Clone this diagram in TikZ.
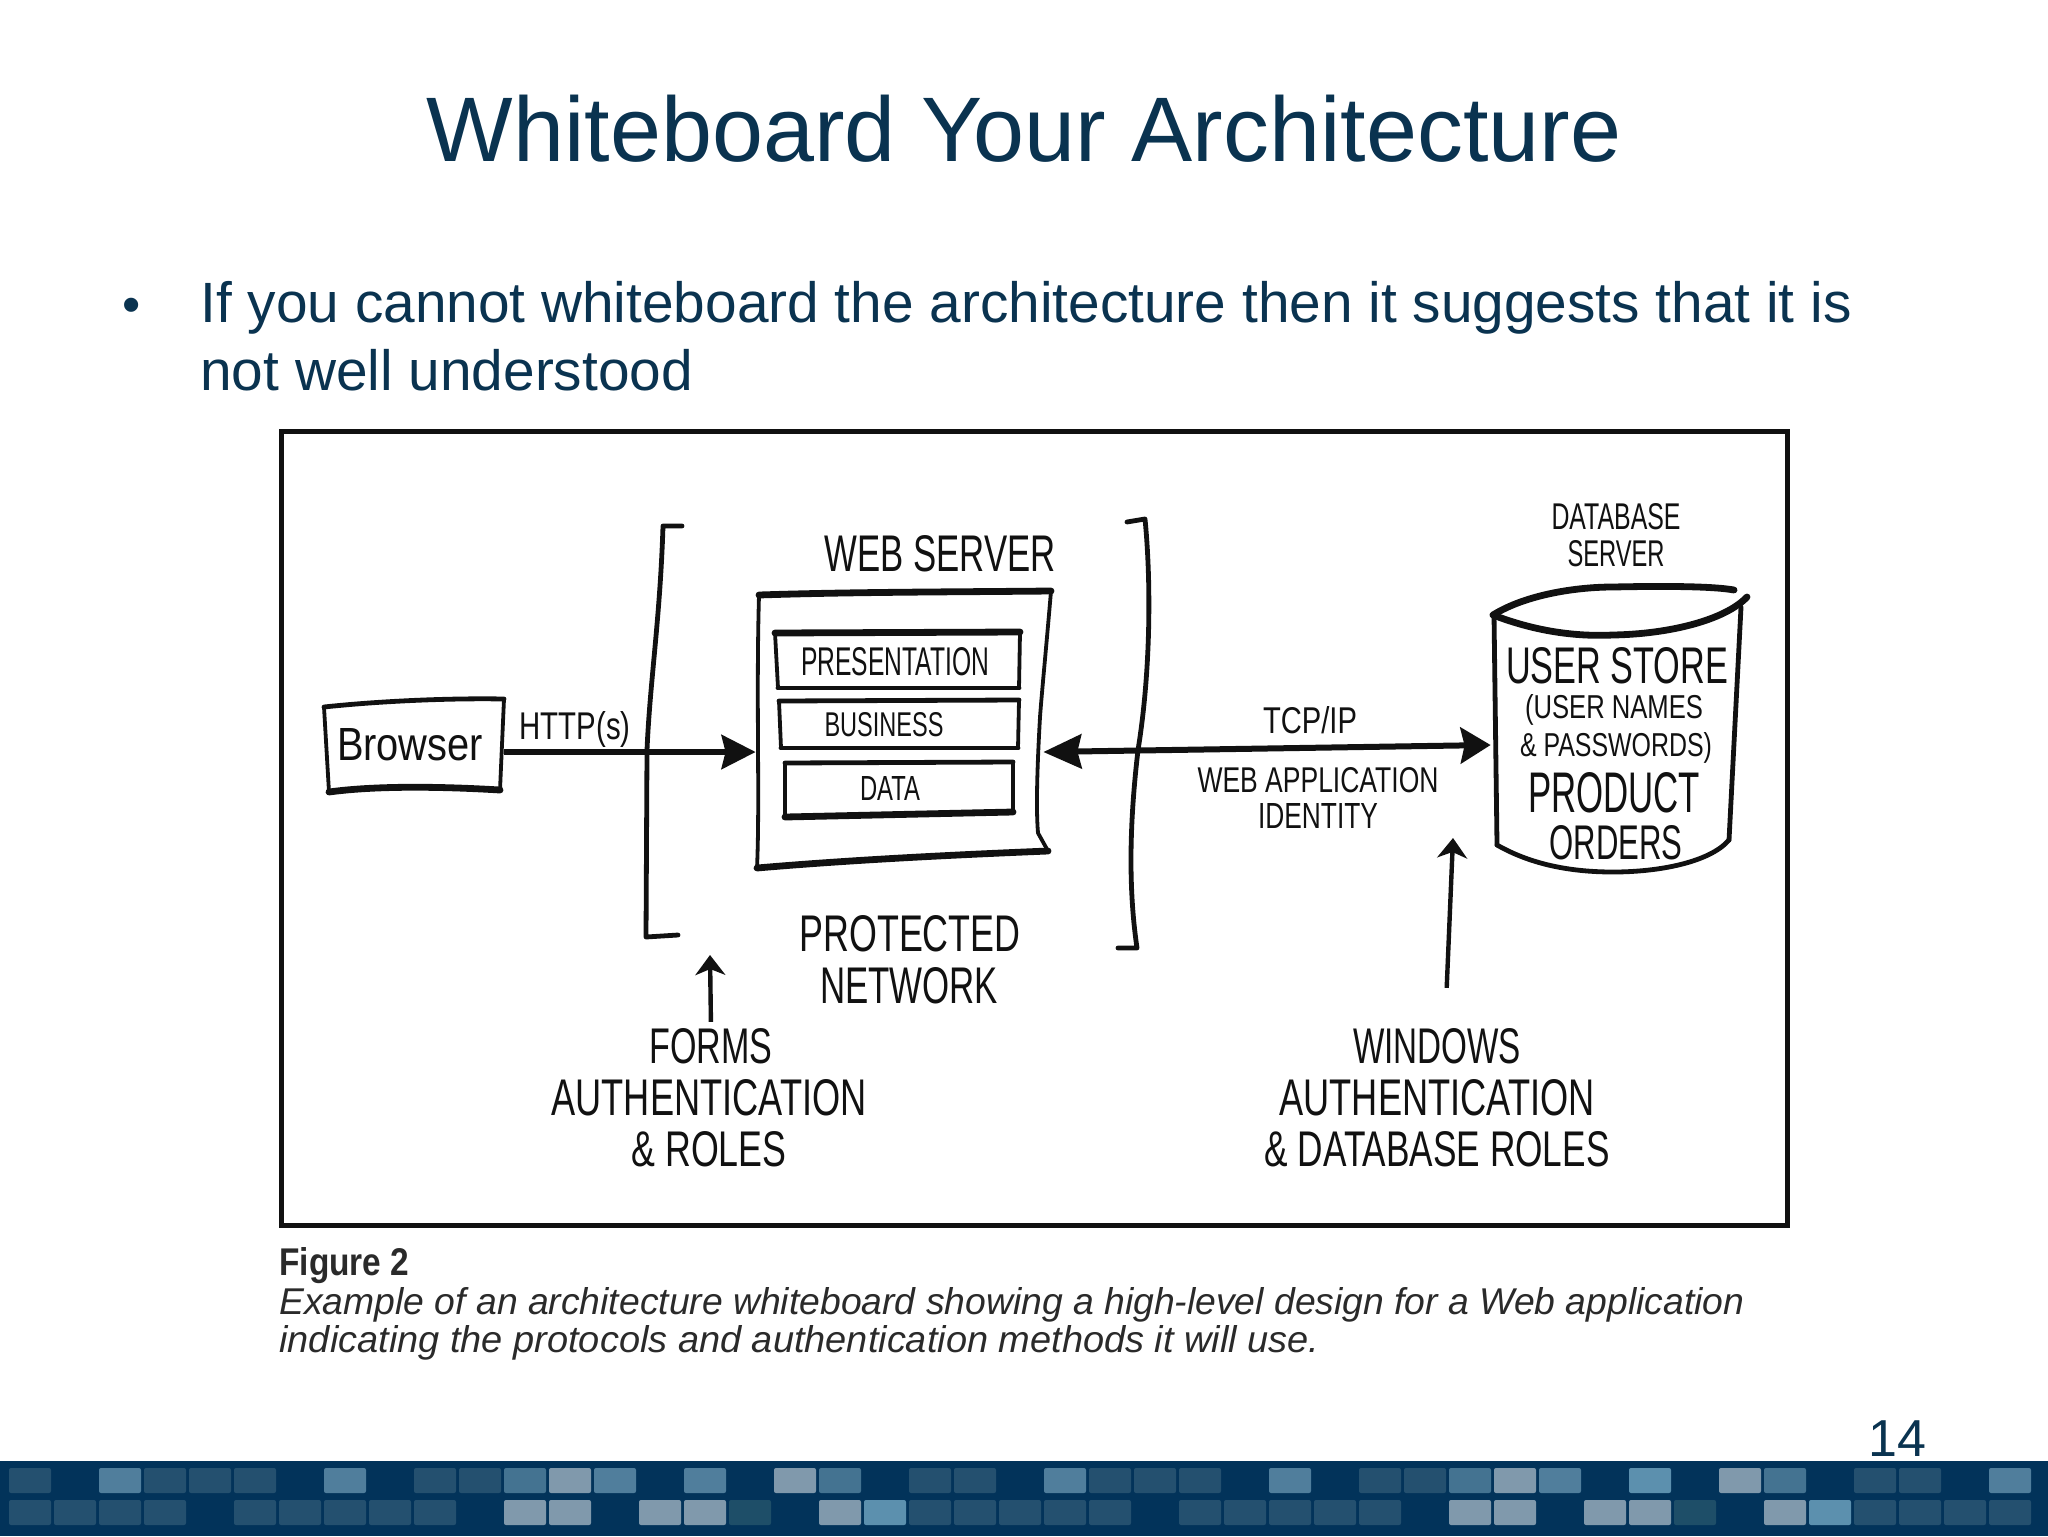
\documentclass[tikz,border=0pt]{standalone}
\usepackage{fontspec}
\usepackage{graphicx}
\setmainfont{Liberation Sans}
\usetikzlibrary{arrows.meta}
\definecolor{slidenavy}{HTML}{0A3350}
\definecolor{footbg}{HTML}{02335A}
\definecolor{sqd}{HTML}{24506F}
\definecolor{sqv}{HTML}{1E4E68}
\definecolor{sqm}{HTML}{507E9C}
\definecolor{sqh}{HTML}{447391}
\definecolor{sql}{HTML}{8099AC}
\definecolor{sqb}{HTML}{5C90AE}
\definecolor{ink}{HTML}{111111}
\definecolor{capgrey}{HTML}{2A2A2A}
% sizes given in reference pixels (1 px = 0.5 pt)
\newcommand{\hand}[3]{\resizebox{\dimexpr #1pt/2\relax}{\dimexpr #2pt/2\relax}{#3}}
\tikzset{
  x=0.5pt,y=-0.5pt,
  label text/.style={inner sep=0pt,text=ink},
  hit/.style={inner sep=0pt,minimum width=#1},
  thin ink/.style={draw=ink,line width=1.9pt,line cap=round,line join=round},
  mid ink/.style={draw=ink,line width=2.4pt,line cap=round,line join=round},
  thick ink/.style={draw=ink,line width=3.4pt,line cap=round,line join=round},
  heavy arrow/.style={draw=ink,line width=3pt,-{Stealth[length=17pt,width=17pt,inset=2pt]}},
  both arrow/.style={draw=ink,line width=3pt,{Stealth[length=19pt,width=17pt,inset=2pt]}-{Stealth[length=15pt,width=18pt,inset=2pt]}},
  up arrow/.style={draw=ink,line width=2.2pt,-{Stealth[length=10pt,width=15pt,inset=3pt]}},
}
\begin{document}
\begin{tikzpicture}
\useasboundingbox[fill=white] (0,0) rectangle (2048,1536);

% footer band
\fill[footbg] (0,1461) rectangle (2048,1536);
\foreach \c/\s in {0/sqd,2/sqm,3/sqd,4/sqd,5/sqd,7/sqm,9/sqd,10/sqd,11/sqh,12/sql,13/sqm,15/sqm,17/sql,18/sqh,20/sqd,21/sqd,23/sqm,24/sqd,25/sqd,26/sqd,28/sqm,30/sqd,31/sqd,32/sqh,33/sql,34/sqm,36/sqb,38/sql,39/sqh,41/sqd,42/sqd,44/sqm}{
  \fill[\s,rounded corners=1pt] ({9+45*\c},1468) rectangle ++(42,25);
}
\foreach \c/\s in {0/sqd,1/sqd,2/sqd,3/sqd,5/sqd,6/sqd,7/sqd,8/sqd,9/sqd,11/sql,12/sql,14/sql,15/sql,16/sqv,18/sql,19/sqb,20/sqd,21/sqd,22/sqd,23/sqd,24/sqd,26/sqd,27/sqd,28/sqd,29/sqd,30/sqd,32/sql,33/sql,35/sql,36/sql,37/sqv,39/sql,40/sqb,41/sqd,42/sqd,43/sqd,44/sqd}{
  \fill[\s,rounded corners=1pt] ({9+45*\c},1500) rectangle ++(42,25);
}
\node[anchor=base,inner sep=0pt,text=slidenavy] (pagenum) at (1897,1456) {\fontsize{26pt}{30pt}\selectfont 14};

% slide title and bullet
\node[anchor=base,inner sep=0pt,text=slidenavy] (title) at (1024,161) {\fontsize{45.85pt}{52pt}\selectfont Whiteboard Your Architecture};
\node[anchor=base,inner sep=0pt,text=slidenavy] (bullet) at (132,322) {\fontsize{26pt}{30pt}\selectfont •};
\node[anchor=base west,inner sep=0pt,text=slidenavy] (line1) at (200,322) {\fontsize{28.4pt}{34pt}\selectfont If you cannot whiteboard the architecture then it suggests that it is};
\node[anchor=base west,inner sep=0pt,text=slidenavy] (line2) at (200,390) {\fontsize{28.4pt}{34pt}\selectfont not well understood};

% figure frame
\draw[ink,line width=2.5pt] (281,431) rectangle (1787,1225);

% browser
\node[hit=88pt,minimum height=44pt] (browser) at (416,752) {};
\draw[thin ink] (324,707) -- (329,792);
\draw[thin ink] (504,699) -- (500,790);
\draw[mid ink] (324,707) .. controls (380,701) and (450,698) .. (504,699);
\draw[thick ink] (329,792) .. controls (380,785) and (450,787) .. (500,790);
\node[label text] (browsertext) at (410,745) {\hand{146}{32}{Browser}};
\node[label text] (http) at (575,729) {\hand{111}{28}{HTTP(s)}};

% protected-network brackets
\draw[mid ink] (682,526) -- (663,526) .. controls (660,620) and (650,680) .. (647,750) -- (646,937) -- (678,935);
\draw[mid ink] (1127,522) -- (1145,519) .. controls (1151,580) and (1151,670) .. (1138,750) .. controls (1131,810) and (1127,880) .. (1137,948) -- (1118,948);

% web server
\node[hit=143.5pt,minimum height=130pt] (webserver) at (899.5,752) {};
\draw[thin ink] (759,595) .. controls (756,700) and (760,800) .. (757,868);
\draw[thin ink] (1051,591) .. controls (1046,650) and (1042,690) .. (1040,717) .. controls (1037,770) and (1036,810) .. (1038,833) -- (1048,851);
\draw[thick ink] (759,595) .. controls (850,592) and (950,592) .. (1051,591);
\draw[thick ink] (757,868) .. controls (850,860) and (950,855) .. (1048,851);
\node[label text] (webservertext) at (940,554) {\hand{231}{36}{WEB SERVER}};
\draw[thin ink] (775,633) -- (778,688);
\draw[thin ink] (1020,632) -- (1019,688);
\draw[thick ink] (775,633) -- (1020,632);
\draw[mid ink] (778,688) -- (1019,688);
\node[label text] (presentation) at (895,662) {\hand{188}{28}{PRESENTATION}};
\draw[thin ink] (779,701) -- (781,748);
\draw[thin ink] (1019,700) -- (1018,748);
\draw[mid ink] (779,701) -- (1019,700);
\draw[mid ink] (781,748) -- (1018,748);
\node[label text] (business) at (884,725) {\hand{119}{24}{BUSINESS}};
\draw[thin ink] (785,763) -- (785,817);
\draw[thin ink] (1013,762) -- (1013,812);
\draw[mid ink] (785,763) -- (1013,762);
\draw[thick ink] (785,817) -- (1013,812);
\node[label text] (data) at (890,788) {\hand{60}{24}{DATA}};

% database cylinder
\node[hit=126pt,minimum height=120pt] (database) at (1617,745) {};
\draw[thick ink] (1493,615) .. controls (1525,595) and (1575,587) .. (1613,587) .. controls (1660,586) and (1712,586) .. (1734,590);
\draw[thick ink] (1493,615) .. controls (1532,630) and (1572,637) .. (1613,635) .. controls (1670,634) and (1725,620) .. (1747,597);
\draw[mid ink] (1494,615) -- (1497,845);
\draw[mid ink] (1741,607) -- (1729,840);
\draw[mid ink] (1497,845) .. controls (1532,865) and (1572,872) .. (1613,872) .. controls (1660,872) and (1710,862) .. (1729,840);
\node[label text] (dbtitle1) at (1616,517) {\hand{129}{26}{DATABASE}};
\node[label text] (dbtitle2) at (1616,554) {\hand{97}{26}{SERVER}};
\node[label text] (userstore) at (1617,666) {\hand{222}{36}{USER STORE}};
\node[label text] (usernames) at (1614,710) {\hand{178}{24}{(USER NAMES}};
\node[label text] (passwords) at (1616,748) {\hand{192}{24}{\& PASSWORDS)}};
\node[label text] (product) at (1614,793) {\hand{172}{40}{PRODUCT}};
\node[label text] (orders) at (1616,843) {\hand{133}{34}{ORDERS}};

% connection labels
\node[label text] (tcpip) at (1310,720) {\hand{94}{27}{TCP/IP}};
\node[label text] (webapp) at (1318,780) {\hand{241}{25}{WEB APPLICATION}};
\node[label text] (identity) at (1318,816) {\hand{120}{25}{IDENTITY}};
\node[label text] (protected) at (910,934) {\hand{221}{36}{PROTECTED}};
\node[label text] (network) at (909,986) {\hand{178}{36}{NETWORK}};
\node[label text] (forms) at (711,1046) {\hand{123}{35}{FORMS}};
\node[label text] (formsauth) at (709,1098) {\hand{315}{36}{AUTHENTICATION}};
\node[label text] (formsroles) at (709,1149) {\hand{155}{35}{\& ROLES}};
\node[label text] (windows) at (1437,1046) {\hand{168}{35}{WINDOWS}};
\node[label text] (winauth) at (1437,1098) {\hand{315}{36}{AUTHENTICATION}};
\node[label text] (winroles) at (1437,1149) {\hand{345}{35}{\& DATABASE ROLES}};

% connectors
\coordinate (formstip) at (710,955);
\coordinate (wintip) at (1453,838);
\draw[heavy arrow] (browser.east) -- (webserver.west);
\draw[both arrow] (webserver.east) -- (database.west);
\draw[up arrow,shorten <=3pt] (forms.north) -- (formstip);
\draw[up arrow,shorten <=20pt] ([xshift=4pt]windows.north) -- (wintip);

% caption
\node[anchor=base west,inner sep=0pt,text=capgrey] (figlabel) at (279,1275) {\hand{130}{28}{\textbf{Figure 2}}};
\node[anchor=base west,inner sep=0pt,text=capgrey] (cap1) at (279,1314) {\hand{1465}{27}{\itshape Example of an architecture whiteboard showing a high-level design for a Web application}};
\node[anchor=base west,inner sep=0pt,text=capgrey] (cap2) at (279,1352) {\hand{1040}{27}{\itshape indicating the protocols and authentication methods it will use.}};
\end{tikzpicture}
\end{document}
